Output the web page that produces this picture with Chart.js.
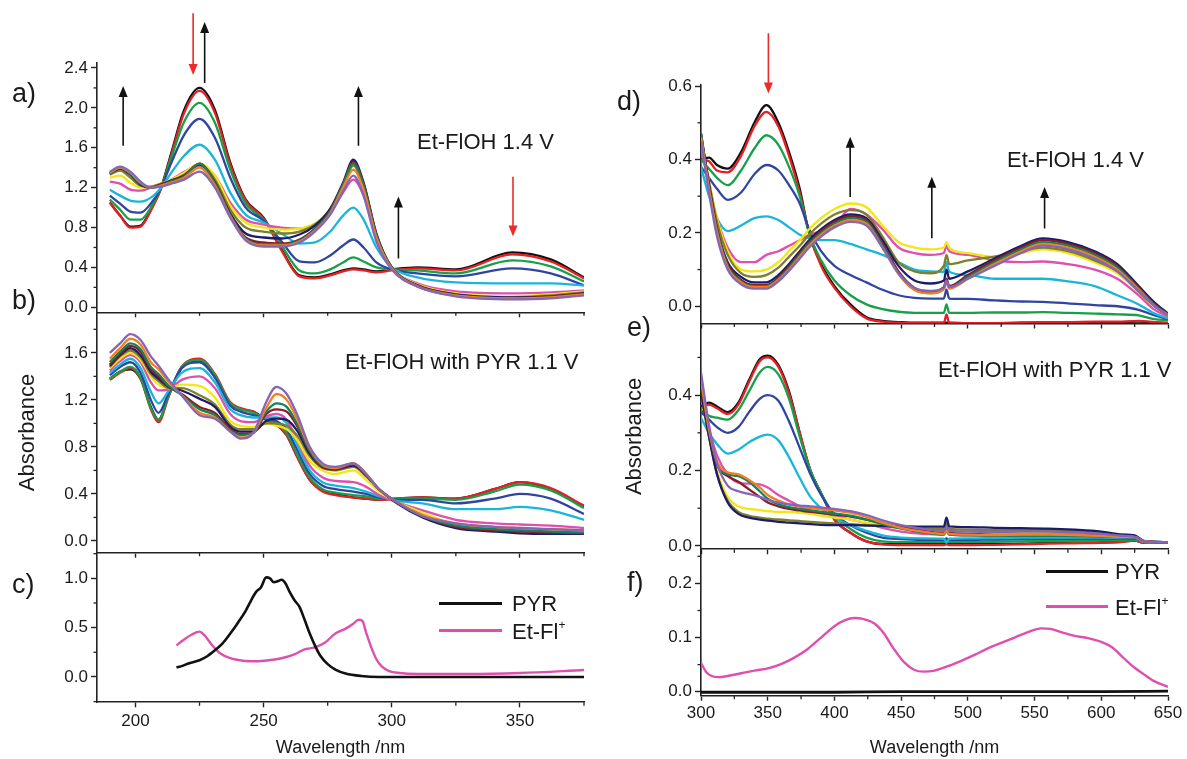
<!DOCTYPE html>
<html>
<head>
<meta charset="utf-8">
<script src="https://cdn.jsdelivr.net/npm/chart.js@4.4.1/dist/chart.umd.min.js"></script>
<style>
  html, body { margin: 0; padding: 0; background: #fff; }
  body { width: 1187px; height: 759px; position: relative; overflow: hidden;
         font-family: "Liberation Sans", Arial, sans-serif; color: #1a1a1a; }
  canvas { position: absolute; }
  .lbl { position: absolute; line-height: 1; white-space: nowrap; transform: translateY(-50%); }
  .tag { font-size: 27px; }
  .note { font-size: 22px; }
  .keytxt { font-size: 22px; }
  .keytxt sup { font-size: 12px; vertical-align: 10px; }
  .key { position: absolute; height: 3px; }
</style>
</head>
<body>
<canvas id="pa"></canvas>
<canvas id="pb"></canvas>
<canvas id="pc"></canvas>
<canvas id="pd"></canvas>
<canvas id="pe"></canvas>
<canvas id="pf"></canvas>

<div class="lbl tag" style="left:12px;top:93px">a)</div>
<div class="lbl tag" style="left:12px;top:300px">b)</div>
<div class="lbl tag" style="left:12px;top:584px">c)</div>
<div class="lbl tag" style="left:617px;top:101px">d)</div>
<div class="lbl tag" style="left:627px;top:327px">e)</div>
<div class="lbl tag" style="left:627px;top:582px">f)</div>

<div class="lbl note" style="left:417px;top:142px">Et-FlOH 1.4 V</div>
<div class="lbl note" style="left:345px;top:362px">Et-FlOH with PYR 1.1 V</div>
<div class="lbl note" style="left:1007px;top:160px">Et-FlOH 1.4 V</div>
<div class="lbl note" style="left:938px;top:370px">Et-FlOH with PYR 1.1 V</div>

<div class="key" style="left:439px;top:602px;width:63px;background:#111"></div>
<div class="lbl keytxt" style="left:512px;top:604px">PYR</div>
<div class="key" style="left:439px;top:629px;width:63px;background:#de4fae"></div>
<div class="lbl keytxt" style="left:512px;top:631px">Et-Fl<sup>+</sup></div>
<div class="key" style="left:1046px;top:570px;width:62px;background:#111"></div>
<div class="lbl keytxt" style="left:1115px;top:572px">PYR</div>
<div class="key" style="left:1046px;top:605px;width:62px;background:#de4fae"></div>
<div class="lbl keytxt" style="left:1115px;top:607px">Et-Fl<sup>+</sup></div>

<script>
// ---- panel a: Et-FlOH 1.4 V, UV region ----
const WL_A = [190,194,198,202,206,210,214,219,225,231,237,243,250,257,264,270,276,281,285,289,294,300,310,325,347,362,375];
const A_BLACK  = [1.05,0.92,0.81,0.82,0.98,1.20,1.55,1.98,2.20,1.98,1.45,1.08,0.90,0.58,0.32,0.30,0.33,0.37,0.39,0.38,0.36,0.38,0.40,0.38,0.55,0.48,0.30];
const A_RED    = [1.05,0.92,0.80,0.81,0.97,1.19,1.53,1.95,2.17,1.95,1.43,1.07,0.89,0.57,0.31,0.29,0.32,0.36,0.38,0.37,0.35,0.37,0.39,0.37,0.53,0.46,0.29];
const A_GREEN  = [1.08,0.98,0.88,0.88,1.00,1.20,1.50,1.86,2.05,1.85,1.38,1.04,0.88,0.62,0.37,0.34,0.38,0.45,0.50,0.46,0.40,0.38,0.37,0.34,0.47,0.41,0.26];
const A_BLUE   = [1.12,1.04,0.96,0.95,1.04,1.20,1.45,1.73,1.89,1.70,1.30,1.00,0.87,0.66,0.46,0.45,0.52,0.62,0.68,0.60,0.45,0.38,0.34,0.31,0.39,0.34,0.22];
const A_CYAN   = [1.18,1.12,1.07,1.06,1.10,1.20,1.35,1.52,1.63,1.48,1.15,0.93,0.85,0.74,0.64,0.65,0.76,0.92,1.00,0.88,0.60,0.40,0.30,0.25,0.24,0.24,0.22];
const A_PINK   = [1.26,1.24,1.18,1.17,1.20,1.23,1.28,1.36,1.42,1.32,1.05,0.88,0.83,0.80,0.79,0.82,0.95,1.15,1.28,1.12,0.70,0.40,0.24,0.16,0.14,0.15,0.17];
const A_YELLOW = [1.30,1.32,1.25,1.20,1.21,1.24,1.28,1.35,1.44,1.32,1.02,0.85,0.80,0.78,0.79,0.84,0.98,1.20,1.38,1.20,0.72,0.40,0.23,0.14,0.11,0.13,0.16];
const A_OLIVE  = [1.33,1.37,1.30,1.22,1.21,1.24,1.27,1.33,1.43,1.28,0.98,0.80,0.76,0.74,0.76,0.83,0.98,1.22,1.42,1.22,0.72,0.40,0.22,0.13,0.10,0.12,0.15];
const A_NAVY   = [1.34,1.39,1.33,1.23,1.20,1.23,1.27,1.32,1.43,1.25,0.94,0.74,0.70,0.69,0.73,0.82,0.99,1.25,1.48,1.25,0.74,0.40,0.22,0.13,0.10,0.11,0.14];
const A_WINE   = [1.35,1.40,1.34,1.24,1.20,1.23,1.27,1.32,1.44,1.25,0.93,0.70,0.65,0.64,0.68,0.79,0.97,1.24,1.46,1.24,0.73,0.40,0.22,0.12,0.09,0.11,0.14];
const A_DGREEN = [1.34,1.40,1.34,1.24,1.20,1.22,1.26,1.31,1.44,1.24,0.92,0.69,0.63,0.63,0.67,0.78,0.96,1.23,1.44,1.22,0.72,0.40,0.21,0.12,0.09,0.10,0.13];
const A_ORANGE = [1.35,1.40,1.35,1.25,1.20,1.22,1.25,1.30,1.40,1.22,0.91,0.68,0.62,0.62,0.66,0.77,0.94,1.20,1.38,1.18,0.70,0.39,0.21,0.12,0.09,0.10,0.13];
const A_VIOLET = [1.36,1.41,1.36,1.26,1.20,1.21,1.24,1.28,1.36,1.20,0.90,0.67,0.61,0.61,0.65,0.76,0.93,1.16,1.32,1.12,0.66,0.38,0.21,0.11,0.08,0.09,0.12];

// ---- panel b: Et-FlOH with PYR 1.1 V, UV region ----
const WL_B = [190,194,198,202,206,209,213,218,225,231,237,241,246,251,255,259,263,268,273,278,285,290,295,302,312,325,340,350,362,375];
const B_BLACK  = [1.38,1.44,1.46,1.38,1.14,1.03,1.24,1.47,1.53,1.40,1.17,1.12,1.10,1.03,0.99,0.90,0.72,0.52,0.43,0.40,0.37,0.36,0.35,0.36,0.37,0.36,0.44,0.50,0.44,0.29];
const B_RED    = [1.37,1.43,1.47,1.38,1.12,1.01,1.23,1.48,1.55,1.42,1.18,1.13,1.10,1.03,0.99,0.90,0.72,0.52,0.42,0.39,0.37,0.36,0.35,0.36,0.37,0.36,0.44,0.50,0.45,0.30];
const B_GREEN  = [1.38,1.44,1.48,1.39,1.13,1.03,1.24,1.48,1.54,1.41,1.17,1.12,1.09,1.04,1.00,0.92,0.74,0.54,0.44,0.41,0.39,0.38,0.36,0.36,0.36,0.35,0.42,0.48,0.43,0.28];
const B_BLUE   = [1.41,1.48,1.52,1.43,1.20,1.09,1.26,1.47,1.52,1.39,1.15,1.10,1.07,1.04,1.02,0.95,0.78,0.57,0.47,0.44,0.42,0.40,0.37,0.35,0.35,0.32,0.36,0.40,0.36,0.23];
const B_CYAN   = [1.43,1.50,1.55,1.47,1.27,1.17,1.28,1.43,1.47,1.35,1.12,1.07,1.05,1.05,1.05,1.00,0.82,0.60,0.50,0.47,0.45,0.42,0.38,0.34,0.32,0.27,0.27,0.29,0.26,0.18];
const B_PINK   = [1.45,1.53,1.58,1.52,1.35,1.28,1.29,1.37,1.40,1.30,1.08,1.02,1.01,1.06,1.08,1.03,0.86,0.64,0.54,0.51,0.50,0.46,0.39,0.33,0.26,0.18,0.15,0.14,0.13,0.11];
const B_YELLOW = [1.47,1.55,1.60,1.54,1.40,1.33,1.30,1.33,1.32,1.22,1.02,0.98,0.97,1.00,0.98,0.95,0.86,0.68,0.60,0.57,0.60,0.52,0.42,0.33,0.24,0.14,0.11,0.09,0.08,0.07];
const B_OLIVE  = [1.48,1.57,1.62,1.56,1.42,1.36,1.30,1.30,1.24,1.16,0.99,0.95,0.95,1.00,1.00,0.98,0.90,0.72,0.62,0.60,0.63,0.55,0.44,0.33,0.22,0.13,0.10,0.09,0.08,0.07];
const B_NAVY   = [1.49,1.58,1.64,1.58,1.44,1.38,1.31,1.28,1.21,1.14,0.97,0.93,0.93,1.02,1.04,1.03,0.94,0.74,0.63,0.61,0.64,0.56,0.44,0.32,0.20,0.11,0.08,0.065,0.06,0.06];
const B_WINE   = [1.50,1.59,1.66,1.61,1.46,1.40,1.31,1.25,1.14,1.09,0.95,0.91,0.92,1.08,1.12,1.10,0.98,0.76,0.63,0.61,0.65,0.56,0.44,0.33,0.21,0.12,0.09,0.08,0.07,0.065];
const B_DGREEN = [1.52,1.61,1.68,1.63,1.48,1.42,1.32,1.24,1.12,1.07,0.94,0.90,0.92,1.10,1.17,1.14,1.00,0.77,0.64,0.62,0.66,0.57,0.44,0.33,0.21,0.13,0.10,0.09,0.08,0.07];
const B_ORANGE = [1.55,1.64,1.72,1.67,1.52,1.46,1.35,1.24,1.09,1.05,0.93,0.88,0.92,1.13,1.25,1.20,1.04,0.79,0.65,0.62,0.66,0.57,0.44,0.33,0.22,0.15,0.12,0.11,0.10,0.09];
const B_VIOLET = [1.60,1.68,1.76,1.71,1.57,1.49,1.37,1.24,1.07,1.04,0.93,0.87,0.92,1.18,1.31,1.25,1.08,0.80,0.66,0.63,0.66,0.57,0.44,0.33,0.21,0.15,0.12,0.11,0.10,0.09];

// ---- panel c: reference spectra, UV ----
const WL_C_PYR = [216,218,221,225,228,231,234,237,240,243,245,247,249,251,252.5,254,255.5,257,258.5,260,262,264,266,268,270,272,275,278,282,288,295,310,340,375];
const C_PYR    = [0.095,0.11,0.14,0.17,0.21,0.27,0.34,0.44,0.55,0.67,0.77,0.86,0.91,1.01,1.00,0.96,0.97,0.985,0.95,0.87,0.78,0.71,0.58,0.44,0.32,0.22,0.13,0.075,0.035,0.01,0.0,0.0,0.0,0.0];
const WL_C_FL  = [216,219,222,225,227,230,233,237,242,247,252,257,262,266,270,274,278,282,285,287,288.5,290,292,294,296,299,303,310,330,350,375];
const C_FL     = [0.32,0.38,0.43,0.46,0.42,0.32,0.24,0.19,0.165,0.16,0.17,0.19,0.23,0.28,0.30,0.35,0.44,0.49,0.54,0.58,0.57,0.45,0.30,0.18,0.11,0.06,0.04,0.03,0.03,0.04,0.07];

// ---- panel d: Et-FlOH 1.4 V, visible ----
const WL_D = [300,306,312,320,330,340,349,358,366,374,381,390,400,412,424,436,448,460,472,482,484,486,500,520,540,556,575,595,612,628,640,650];
const D_BLACK  = [0.40,0.405,0.385,0.375,0.42,0.50,0.548,0.50,0.42,0.32,0.20,0.115,0.055,0.005,-0.03,-0.04,-0.043,-0.045,-0.045,-0.045,-0.045,-0.045,-0.046,-0.046,-0.045,-0.044,-0.044,-0.043,-0.043,-0.042,-0.044,-0.046];
const D_RED    = [0.40,0.395,0.37,0.365,0.41,0.49,0.53,0.49,0.41,0.31,0.20,0.11,0.05,0.0,-0.033,-0.042,-0.045,-0.046,-0.046,-0.046,-0.022,-0.046,-0.046,-0.046,-0.045,-0.043,-0.043,-0.042,-0.042,-0.040,-0.043,-0.045];
const D_GREEN  = [0.40,0.375,0.35,0.33,0.37,0.43,0.466,0.44,0.38,0.30,0.20,0.125,0.07,0.03,0.005,-0.008,-0.015,-0.018,-0.018,-0.018,0.005,-0.018,-0.018,-0.017,-0.017,-0.016,-0.018,-0.020,-0.022,-0.025,-0.035,-0.038];
const D_BLUE   = [0.38,0.35,0.32,0.29,0.31,0.36,0.385,0.37,0.33,0.28,0.21,0.15,0.11,0.085,0.065,0.045,0.03,0.023,0.021,0.021,0.045,0.021,0.02,0.016,0.013,0.012,0.008,0.003,0.0,-0.01,-0.025,-0.035];
const D_CYAN   = [0.38,0.30,0.24,0.205,0.22,0.24,0.245,0.235,0.215,0.195,0.185,0.18,0.18,0.17,0.155,0.14,0.12,0.10,0.095,0.094,0.12,0.094,0.085,0.075,0.075,0.075,0.068,0.055,0.03,0.005,-0.02,-0.033];
const D_PINK   = [0.44,0.33,0.24,0.16,0.12,0.12,0.14,0.15,0.165,0.18,0.195,0.205,0.22,0.265,0.25,0.21,0.16,0.145,0.14,0.145,0.165,0.15,0.14,0.125,0.12,0.122,0.115,0.10,0.075,0.03,-0.01,-0.028];
const D_YELLOW = [0.46,0.34,0.24,0.15,0.10,0.095,0.10,0.12,0.15,0.18,0.21,0.24,0.265,0.28,0.27,0.22,0.175,0.16,0.155,0.16,0.175,0.16,0.145,0.135,0.145,0.155,0.145,0.12,0.09,0.04,0.0,-0.025];
const D_OLIVE  = [0.46,0.34,0.23,0.14,0.09,0.08,0.085,0.105,0.135,0.165,0.195,0.225,0.25,0.262,0.25,0.19,0.12,0.095,0.09,0.11,0.14,0.115,0.125,0.135,0.15,0.16,0.15,0.125,0.095,0.04,0.0,-0.025];
const D_NAVY   = [0.47,0.33,0.21,0.12,0.08,0.065,0.065,0.085,0.115,0.15,0.18,0.21,0.235,0.25,0.24,0.18,0.11,0.07,0.062,0.07,0.10,0.075,0.095,0.13,0.165,0.185,0.175,0.15,0.115,0.055,0.01,-0.02];
const D_WINE   = [0.47,0.33,0.21,0.115,0.072,0.058,0.058,0.078,0.11,0.145,0.175,0.205,0.23,0.245,0.235,0.17,0.095,0.05,0.04,0.052,0.075,0.055,0.085,0.125,0.16,0.18,0.17,0.145,0.11,0.05,0.005,-0.022];
const D_DGREEN = [0.47,0.32,0.205,0.11,0.068,0.055,0.055,0.075,0.105,0.14,0.17,0.20,0.225,0.24,0.23,0.165,0.09,0.045,0.036,0.048,0.07,0.05,0.08,0.12,0.155,0.175,0.165,0.14,0.105,0.048,0.003,-0.023];
const D_ORANGE = [0.46,0.32,0.20,0.105,0.065,0.052,0.052,0.072,0.10,0.135,0.165,0.195,0.22,0.235,0.225,0.16,0.088,0.044,0.035,0.046,0.065,0.048,0.075,0.115,0.15,0.17,0.16,0.135,0.10,0.045,0.0,-0.024];
const D_VIOLET = [0.45,0.31,0.19,0.10,0.06,0.048,0.048,0.068,0.097,0.13,0.16,0.19,0.215,0.23,0.22,0.16,0.09,0.05,0.042,0.05,0.07,0.052,0.075,0.11,0.145,0.165,0.155,0.13,0.095,0.042,0.0,-0.025];

// ---- panel e: Et-FlOH with PYR 1.1 V, visible ----
const WL_E = [300,306,312,320,328,336,344,350,358,366,374,382,390,400,412,424,436,450,466,482,484,486,500,520,540,560,580,600,615,625,632,650];
const E_BLACK  = [0.37,0.38,0.37,0.355,0.38,0.44,0.495,0.505,0.48,0.41,0.30,0.20,0.14,0.07,0.035,0.012,0.005,0.005,0.005,0.005,0.006,0.005,0.005,0.005,0.006,0.008,0.008,0.010,0.012,0.014,0.008,0.008];
const E_RED    = [0.365,0.375,0.365,0.35,0.375,0.435,0.49,0.50,0.475,0.405,0.30,0.20,0.14,0.07,0.035,0.012,0.004,0.002,0.002,0.002,0.004,0.002,0.002,0.003,0.004,0.006,0.007,0.008,0.010,0.014,0.008,0.008];
const E_GREEN  = [0.36,0.345,0.34,0.335,0.36,0.41,0.46,0.475,0.455,0.39,0.29,0.20,0.14,0.08,0.045,0.022,0.012,0.010,0.010,0.010,0.015,0.010,0.010,0.011,0.012,0.013,0.013,0.014,0.015,0.016,0.010,0.009];
const E_BLUE   = [0.355,0.335,0.315,0.30,0.315,0.355,0.39,0.40,0.385,0.33,0.26,0.19,0.135,0.085,0.055,0.035,0.022,0.018,0.016,0.016,0.020,0.016,0.016,0.017,0.018,0.019,0.019,0.019,0.019,0.020,0.012,0.010];
const E_CYAN   = [0.34,0.30,0.27,0.245,0.255,0.275,0.29,0.295,0.28,0.235,0.18,0.13,0.10,0.075,0.055,0.04,0.028,0.022,0.020,0.019,0.008,0.019,0.020,0.021,0.022,0.022,0.022,0.022,0.021,0.022,0.011,0.010];
const E_PINK   = [0.40,0.31,0.24,0.19,0.168,0.165,0.163,0.155,0.135,0.12,0.105,0.095,0.088,0.08,0.07,0.06,0.048,0.038,0.032,0.030,0.040,0.030,0.028,0.028,0.028,0.028,0.027,0.025,0.023,0.022,0.011,0.010];
const E_YELLOW = [0.42,0.30,0.20,0.13,0.105,0.098,0.095,0.092,0.09,0.09,0.088,0.085,0.08,0.075,0.07,0.062,0.055,0.048,0.044,0.042,0.055,0.042,0.040,0.038,0.037,0.036,0.035,0.033,0.030,0.026,0.012,0.010];
const E_OLIVE  = [0.40,0.29,0.19,0.12,0.09,0.08,0.075,0.072,0.07,0.068,0.066,0.064,0.062,0.06,0.058,0.055,0.052,0.048,0.046,0.045,0.060,0.045,0.043,0.042,0.042,0.042,0.040,0.036,0.030,0.027,0.012,0.010];
const E_NAVY   = [0.41,0.29,0.19,0.115,0.085,0.075,0.07,0.067,0.064,0.062,0.06,0.058,0.056,0.055,0.055,0.054,0.053,0.052,0.051,0.051,0.075,0.052,0.050,0.048,0.047,0.046,0.043,0.038,0.030,0.028,0.013,0.010];
const E_WINE   = [0.43,0.30,0.215,0.185,0.17,0.15,0.13,0.115,0.105,0.098,0.094,0.09,0.087,0.083,0.078,0.07,0.06,0.05,0.04,0.035,0.045,0.035,0.032,0.030,0.030,0.030,0.030,0.028,0.025,0.024,0.012,0.010];
const E_DGREEN = [0.44,0.31,0.22,0.19,0.185,0.17,0.145,0.125,0.11,0.103,0.098,0.094,0.09,0.086,0.08,0.07,0.058,0.046,0.036,0.030,0.040,0.030,0.028,0.027,0.027,0.027,0.026,0.025,0.023,0.023,0.012,0.010];
const E_ORANGE = [0.44,0.31,0.225,0.195,0.19,0.175,0.155,0.135,0.12,0.11,0.105,0.10,0.097,0.094,0.088,0.077,0.062,0.048,0.038,0.032,0.042,0.032,0.030,0.029,0.030,0.030,0.029,0.027,0.024,0.024,0.012,0.010];
const E_VIOLET = [0.46,0.32,0.22,0.16,0.145,0.138,0.13,0.122,0.115,0.11,0.107,0.105,0.102,0.098,0.092,0.082,0.068,0.055,0.045,0.040,0.050,0.040,0.038,0.037,0.038,0.038,0.036,0.032,0.027,0.024,0.012,0.010];

// ---- panel f: reference spectra, visible ----
const WL_F_PYR = [300,350,400,450,500,550,600,650];
const F_PYR    = [-0.001,-0.001,-0.001,0.0,0.0,0.0,0.0,0.001];
const WL_F_FL  = [300,304,308,313,320,330,340,350,360,370,380,390,400,408,415,422,430,437,444,452,460,467,475,485,495,505,515,525,535,545,555,562,570,580,590,600,608,616,624,632,640,650];
const F_FL     = [0.053,0.036,0.029,0.027,0.029,0.034,0.039,0.043,0.051,0.063,0.079,0.100,0.121,0.132,0.136,0.134,0.126,0.108,0.081,0.055,0.040,0.037,0.039,0.047,0.057,0.068,0.080,0.090,0.100,0.110,0.117,0.116,0.110,0.103,0.099,0.092,0.082,0.064,0.046,0.032,0.019,0.009];

// ticks
const X_TICKS_UV  = [200, 250, 300, 350];
const X_TICKS_VIS = [300, 350, 400, 450, 500, 550, 600, 650];
const Y_TICKS_A = [0, 0.4, 0.8, 1.2, 1.6, 2.0, 2.4];
const Y_TICKS_B = [0, 0.4, 0.8, 1.2, 1.6];
const Y_TICKS_C = [0, 0.5, 1.0];
const Y_TICKS_D = [0, 0.2, 0.4, 0.6];
const Y_TICKS_E = [0, 0.2, 0.4];
const Y_TICKS_F = [0, 0.1, 0.2];

// arrows (wavelength, absorbance start -> tip)
const ARROWS_A = [
  { x: 195.2, from: 1.62, to: 2.22, c: '#111' },
  { x: 222.5, from: 2.95, to: 2.33, c: '#ee2a2a' },
  { x: 227.0, from: 2.25, to: 2.86, c: '#111' },
  { x: 287.0, from: 1.62, to: 2.22, c: '#111' },
  { x: 302.6, from: 0.49, to: 1.11, c: '#111' },
  { x: 347.3, from: 1.31, to: 0.71, c: '#ee2a2a' }
];
const ARROWS_D = [
  { x: 350.5, from: 0.744, to: 0.58, c: '#ee2a2a' },
  { x: 411.8, from: 0.298, to: 0.462, c: '#111' },
  { x: 473.0, from: 0.185, to: 0.353, c: '#111' },
  { x: 557.5, from: 0.212, to: 0.325, c: '#111' }
];

const COLORS = ['#111111','#e81e25','#17a04a','#2f45a0','#1ab6da','#de4fae','#f2e614',
                '#7f7f2a','#1c1c6c','#8b1c24','#14835c','#f57e22','#8565b8'];
const INK = '#1a1a1a';
const AXIS = '#222222';

Chart.defaults.font.family = '"Liberation Sans", Arial, sans-serif';
Chart.defaults.color = INK;

function traces(wl, rows) {
  return rows.map((vals, i) => ({
    data: wl.map((x, k) => ({ x: x, y: vals[k] })),
    borderColor: COLORS[i],
    borderWidth: 2.3,
    pointRadius: 0,
    cubicInterpolationMode: 'monotone',
    order: rows.length - i
  }));
}

function single(wl, vals, color, width) {
  return {
    data: wl.map((x, k) => ({ x: x, y: vals[k] })),
    borderColor: color, borderWidth: width, pointRadius: 0,
    cubicInterpolationMode: 'monotone'
  };
}

const decor = {
  id: 'decor',
  afterDatasetsDraw(chart, args, opts) {
    const ctx = chart.ctx, ca = chart.chartArea, x = chart.scales.x, y = chart.scales.y;
    ctx.save();
    ctx.strokeStyle = AXIS;
    ctx.lineWidth = 1.3;
    if (opts.minorY) {
      const k0 = Math.ceil(y.min / opts.minorY - 1e-6), k1 = Math.floor(y.max / opts.minorY + 1e-6);
      for (let k = k0; k <= k1; k++) {
        const v = k * opts.minorY;
        if (y.ticks.some(t => Math.abs(t.value - v) < 1e-6)) continue;
        const py = y.getPixelForValue(v);
        ctx.beginPath(); ctx.moveTo(ca.left - 3.5, py); ctx.lineTo(ca.left, py); ctx.stroke();
      }
    }
    if (opts.minorX) {
      const k0 = Math.ceil(x.min / opts.minorX - 1e-6), k1 = Math.floor(x.max / opts.minorX + 1e-6);
      for (let k = k0; k <= k1; k++) {
        const v = k * opts.minorX;
        if (x.ticks.some(t => Math.abs(t.value - v) < 1e-6)) continue;
        const px = x.getPixelForValue(v);
        ctx.beginPath(); ctx.moveTo(px, ca.bottom); ctx.lineTo(px, ca.bottom + 3.5); ctx.stroke();
      }
    }
    (opts.arrows || []).forEach(a => {
      const px = x.getPixelForValue(a.x), p0 = y.getPixelForValue(a.from), p1 = y.getPixelForValue(a.to);
      const dir = Math.sign(p1 - p0);
      ctx.strokeStyle = a.c; ctx.fillStyle = a.c; ctx.lineWidth = 1.6;
      ctx.beginPath(); ctx.moveTo(px, p0); ctx.lineTo(px, p1 - dir * 9); ctx.stroke();
      ctx.beginPath();
      ctx.moveTo(px, p1);
      ctx.lineTo(px - 4.5, p1 - dir * 11);
      ctx.lineTo(px + 4.5, p1 - dir * 11);
      ctx.closePath(); ctx.fill();
    });
    ctx.restore();
  }
};

function makePanel(id, box, area, o) {
  const cv = document.getElementById(id);
  cv.width = box.w; cv.height = box.h;
  cv.style.left = box.x + 'px'; cv.style.top = box.y + 'px';
  return new Chart(cv, {
    type: 'line',
    data: { datasets: o.sets },
    options: {
      responsive: false, animation: false, devicePixelRatio: 1,
      layout: { padding: { left: 0, top: area.t - box.y, right: box.x + box.w - area.r, bottom: 0 } },
      plugins: {
        legend: { display: false }, tooltip: { enabled: false },
        decor: { minorX: o.minorX, minorY: o.minorY, arrows: o.arrows || [] }
      },
      scales: {
        x: {
          type: 'linear', min: o.xMin, max: o.xMax,
          afterFit: s => { s.height = box.y + box.h - area.b; },
          afterBuildTicks: s => { s.ticks = o.xTicks.map(v => ({ value: v })); },
          ticks: { display: !!o.xTitle, autoSkip: false, maxRotation: 0, padding: o.xPad || 0,
                   font: { size: 17 }, color: INK, callback: v => String(v) },
          grid: { drawOnChartArea: false, tickLength: 5, tickWidth: 1.4, tickColor: AXIS },
          border: { display: true, color: AXIS, width: 1.6 },
          title: { display: !!o.xTitle, text: o.xTitle || '', font: { size: 18 }, color: INK,
                   padding: { top: o.xTitlePad || 0, bottom: 0 } }
        },
        y: {
          type: 'linear', min: o.yMin, max: o.yMax,
          afterFit: s => { s.width = area.l - box.x; },
          afterBuildTicks: s => { s.ticks = o.yTicks.map(v => ({ value: v })); },
          ticks: { autoSkip: false, padding: 3, font: { size: 17 }, color: INK, callback: v => v.toFixed(1) },
          grid: { drawOnChartArea: false, tickLength: 6, tickWidth: 1.4, tickColor: AXIS },
          border: { display: true, color: AXIS, width: 1.6 },
          title: { display: !!o.yTitle, text: o.yTitle || '', font: { size: 22 }, color: INK,
                   padding: { top: o.yTitlePad || 0, bottom: 0 } }
        }
      }
    },
    plugins: [decor]
  });
}

const LEFT = { l: 97, r: 584 };
const RIGHT = { l: 701, r: 1168 };

makePanel('pa', { x: 0, y: 0, w: 600, h: 330 }, { l: LEFT.l, r: LEFT.r, t: 63, b: 312.3 }, {
  sets: traces(WL_A, [A_BLACK, A_RED, A_GREEN, A_BLUE, A_CYAN, A_PINK, A_YELLOW, A_OLIVE, A_NAVY, A_WINE, A_DGREEN, A_ORANGE, A_VIOLET]),
  xMin: 185, xMax: 375, yMin: -0.05, yMax: 2.45,
  xTicks: X_TICKS_UV, yTicks: Y_TICKS_A, minorX: 25, minorY: 0.2, arrows: ARROWS_A
});
makePanel('pb', { x: 0, y: 292, w: 600, h: 280 }, { l: LEFT.l, r: LEFT.r, t: 312.3, b: 552.7 }, {
  sets: traces(WL_B, [B_BLACK, B_RED, B_GREEN, B_BLUE, B_CYAN, B_PINK, B_YELLOW, B_OLIVE, B_NAVY, B_WINE, B_DGREEN, B_ORANGE, B_VIOLET]),
  xMin: 185, xMax: 375, yMin: -0.1, yMax: 1.945,
  xTicks: X_TICKS_UV, yTicks: Y_TICKS_B, minorX: 25, minorY: 0.2,
  yTitle: 'Absorbance', yTitlePad: 15
});
makePanel('pc', { x: 0, y: 530, w: 600, h: 229 }, { l: LEFT.l, r: LEFT.r, t: 552.7, b: 702.3 }, {
  sets: [single(WL_C_PYR, C_PYR, '#111111', 2.6), single(WL_C_FL, C_FL, '#de4fae', 2.4)],
  xMin: 185, xMax: 375, yMin: -0.257, yMax: 1.26,
  xTicks: X_TICKS_UV, yTicks: Y_TICKS_C, minorX: 25, minorY: 0.25,
  xTitle: 'Wavelength /nm', xPad: 4, xTitlePad: 0
});
makePanel('pd', { x: 600, y: 0, w: 587, h: 345 }, { l: RIGHT.l, r: RIGHT.r, t: 85, b: 323.5 }, {
  sets: traces(WL_D, [D_BLACK, D_RED, D_GREEN, D_BLUE, D_CYAN, D_PINK, D_YELLOW, D_OLIVE, D_NAVY, D_WINE, D_DGREEN, D_ORANGE, D_VIOLET]),
  xMin: 300, xMax: 650, yMin: -0.047, yMax: 0.603,
  xTicks: X_TICKS_VIS, yTicks: Y_TICKS_D, minorX: 25, minorY: 0.1, arrows: ARROWS_D
});
makePanel('pe', { x: 600, y: 300, w: 587, h: 270 }, { l: RIGHT.l, r: RIGHT.r, t: 323.5, b: 549.3 }, {
  sets: traces(WL_E, [E_BLACK, E_RED, E_GREEN, E_BLUE, E_CYAN, E_PINK, E_YELLOW, E_OLIVE, E_NAVY, E_WINE, E_DGREEN, E_ORANGE, E_VIOLET]),
  xMin: 300, xMax: 650, yMin: -0.009, yMax: 0.59,
  xTicks: X_TICKS_VIS, yTicks: Y_TICKS_E, minorX: 25, minorY: 0.1,
  yTitle: 'Absorbance', yTitlePad: 22
});
makePanel('pf', { x: 600, y: 525, w: 587, h: 234 }, { l: RIGHT.l, r: RIGHT.r, t: 549.3, b: 695.7 }, {
  sets: [single(WL_F_PYR, F_PYR, '#111111', 2.8), single(WL_F_FL, F_FL, '#de4fae', 2.4)],
  xMin: 300, xMax: 650, yMin: -0.0074, yMax: 0.263,
  xTicks: X_TICKS_VIS, yTicks: Y_TICKS_F, minorX: 25, minorY: 0.05,
  xTitle: 'Wavelength /nm', xPad: 2, xTitlePad: 9
});
</script>
</body>
</html>
